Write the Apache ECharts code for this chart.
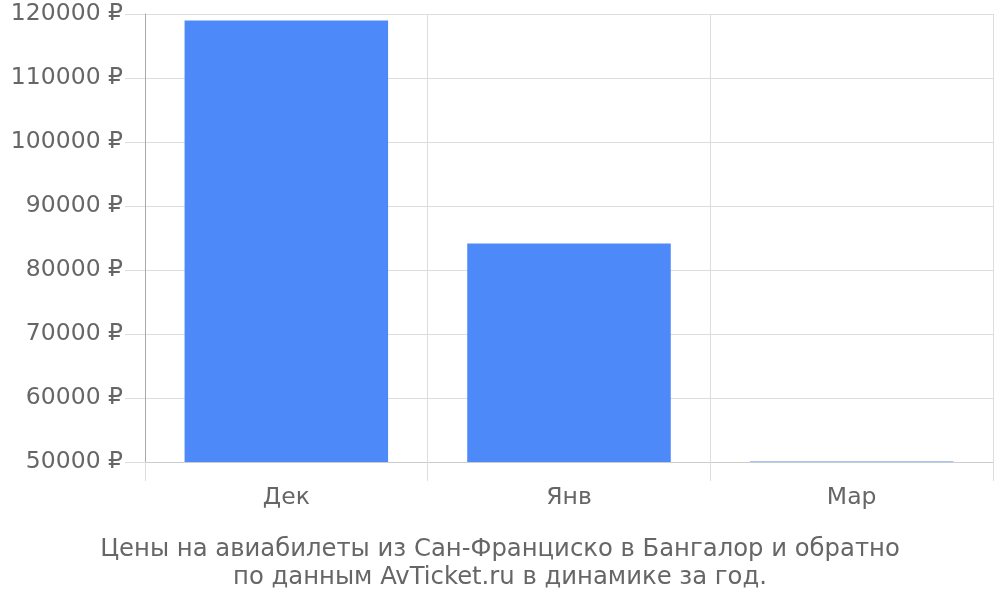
<!DOCTYPE html>
<html>
<head>
<meta charset="utf-8">
<script src="https://cdn.jsdelivr.net/npm/echarts@6/dist/echarts.min.js"></script>
<style>html,body{margin:0;padding:0;background:#fff}#c{width:1000px;height:600px}</style>
</head>
<body>
<div id="c"></div>
<script>
var categories = ['Дек', 'Янв', 'Мар'];
var prices = [119000, 84150, 50060];
var titleLines = ['Цены на авиабилеты из Сан-Франциско в Бангалор и обратно', 'по данным AvTicket.ru в динамике за год.'];

var chart = echarts.init(document.getElementById('c'));
chart.setOption({
  animation: false,
  textStyle: { fontFamily: 'DejaVu Sans' },
  title: {
    text: titleLines.join('\n'),
    left: 'center',
    top: 531,
    textStyle: { color: '#666', fontSize: 24.3, fontWeight: 'normal', lineHeight: 28, fontFamily: 'DejaVu Sans' }
  },
  grid: { left: 145, right: 7, top: 14, bottom: 138, containLabel: false },
  xAxis: {
    type: 'category',
    data: categories,
    axisLine: { lineStyle: { color: '#ccc' } },
    axisTick: { show: true, length: 19, lineStyle: { color: '#ddd' } },
    splitLine: { show: true, lineStyle: { color: '#ddd' } },
    axisLabel: { color: '#666', fontSize: 23.5, margin: 24, fontFamily: 'DejaVu Sans' }
  },
  yAxis: {
    type: 'value',
    min: 50000,
    max: 120000,
    interval: 10000,
    axisLine: { show: true, lineStyle: { color: '#aaa' } },
    axisTick: { show: true, length: 20, lineStyle: { color: '#ddd' } },
    splitLine: { show: true, lineStyle: { color: '#ddd' } },
    axisLabel: { color: '#666', fontSize: 23.5, margin: 22, padding: [3, 0, 0, 0], fontFamily: 'DejaVu Sans', formatter: function (v) { return v + ' ₽'; } }
  },
  series: [{
    type: 'bar',
    data: prices,
    barCategoryGap: '28%',
    itemStyle: { color: '#4d89f9' }
  }]
});
</script>
</body>
</html>
